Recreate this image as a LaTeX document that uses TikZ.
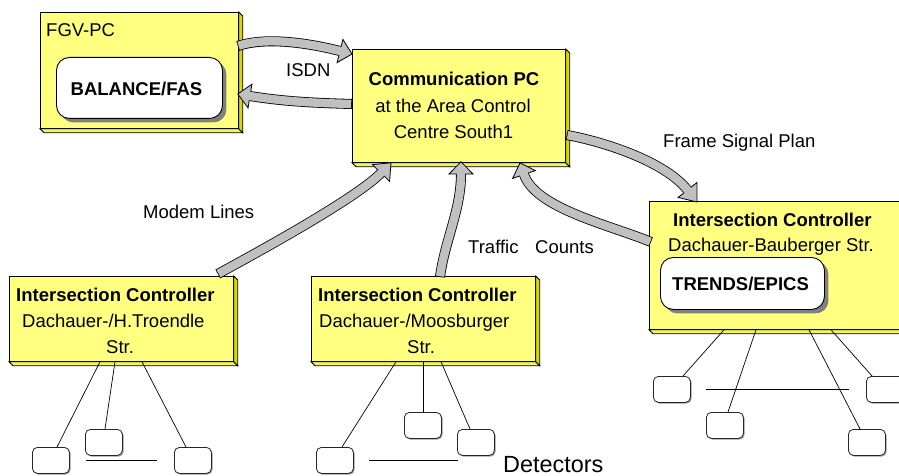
\documentclass[tikz,border=0pt]{standalone}
\usepackage{fontspec}
\setmainfont{Liberation Sans}
\usetikzlibrary{calc,shadows}

\definecolor{pcface}{HTML}{FFFF80}
\definecolor{pcside}{HTML}{D8D800}
\definecolor{pcbottom}{HTML}{F2F26A}
\definecolor{arrowfill}{HTML}{C0C0C0}
\definecolor{shadowgray}{HTML}{808080}

\tikzset{
  pcbox/.style={draw=black, line width=0.8pt, fill=pcface, inner sep=0pt, anchor=north west},
  appbox/.style={draw=black, line width=0.9pt, fill=white, rounded corners=13pt, inner sep=0pt,
    anchor=north west, drop shadow={shadow xshift=4pt, shadow yshift=-4pt, fill=shadowgray, opacity=1}},
  detbox/.style={draw=black!85, line width=0.8pt, fill=white, rounded corners=5pt,
    minimum width=37pt, minimum height=26pt, inner sep=0pt, anchor=north west,
    drop shadow={shadow xshift=1.2pt, shadow yshift=-1.2pt, fill=black!40, opacity=1}},
  txt/.style={font=\fontsize{18.5}{22}\selectfont, anchor=base west, inner sep=0pt},
  btxt/.style={txt, font=\fontsize{18.5}{22}\selectfont\bfseries},
  wire/.style={draw=black, line width=0.7pt},
  shaftout/.style={draw=black, line width=10pt},
  shaftin/.style={draw=arrowfill, line width=8.4pt},
  headstyle/.style={fill=arrowfill, draw=black, line width=0.8pt, line join=miter},
}

% side and bottom faces of a raised box
\newcommand{\pcdepth}[1]{%
  \filldraw[fill=pcbottom, draw=black, line width=0.8pt]
    (#1.south west) -- ++(4,4) -- ($(#1.south east)+(4,4)$) -- (#1.south east) -- cycle;
  \filldraw[fill=pcside, draw=black, line width=0.8pt]
    (#1.north east) -- ++(4,4) -- ($(#1.south east)+(4,4)$) -- (#1.south east) -- cycle;
}

% curved block arrow: tail, tail control, head base midpoint, tip
\newcommand{\blockarrow}[4]{%
  \coordinate (ba-c) at ($(#3)!-36pt!(#4)$);
  \coordinate (ba-l) at ($(#3)!12pt!90:(#4)$);
  \coordinate (ba-r) at ($(#3)!12pt!-90:(#4)$);
  \coordinate (ba-e) at ($(#3)!2pt!(#4)$);
  \draw[shaftout] (#1) .. controls (#2) and (ba-c) .. (#3);
  \filldraw[headstyle] (ba-l) -- (#4) -- (ba-r) -- cycle;
  \draw[shaftin, shorten <=0.8pt] (#1) .. controls (#2) and (ba-c) .. (#3) -- (ba-e);
}

\begin{document}
\begin{tikzpicture}[x=1pt,y=-1pt]
\useasboundingbox (0,0) rectangle (899,476);
\clip (0,0) rectangle (899,476);

% ---------- FGV-PC ----------
\node[pcbox, minimum width=198pt, minimum height=116pt] (fgv) at (40,12) {};
\pcdepth{fgv}
\node[txt] (fgvlabel) at (46,36.5) {FGV-PC};
\node[appbox, minimum width=166pt, minimum height=61pt] (balance) at (56,57) {};
\node[btxt, anchor=base] (balancelabel) at (136.5,95.7) {BALANCE/FAS};

% ---------- Communication PC ----------
\node[pcbox, minimum width=213pt, minimum height=113pt] (comm) at (352,49) {};
\pcdepth{comm}
\node[btxt, anchor=base] (commA) at (454,86) {Communication PC};
\node[txt, anchor=base] (commB) at (453,112.3) {at the Area Control};
\node[txt, anchor=base] (commC) at (453.5,139) {Centre South1};

% ---------- intersection controllers ----------
\node[pcbox, minimum width=224pt, minimum height=85pt] (lc) at (9,276) {};
\pcdepth{lc}
\node[btxt] (lcA) at (16,301.7) {Intersection Controller};
\node[txt] (lcB) at (22,327) {Dachauer-/H.Troendle};
\node[txt] (lcC) at (106,353) {Str.};

\node[pcbox, minimum width=224pt, minimum height=85pt] (mc) at (311,276) {};
\pcdepth{mc}
\node[btxt] (mcA) at (318,301) {Intersection Controller};
\node[txt] (mcB) at (319,327) {Dachauer-/Moosburger};
\node[txt] (mcC) at (407,353) {Str.};

\node[pcbox, minimum width=262pt, minimum height=128pt] (rc) at (649,201) {};
\pcdepth{rc}
\node[btxt] (rcA) at (673,226.7) {Intersection Controller};
\node[txt] (rcB) at (668,251.7) {Dachauer-Bauberger Str.};
\node[appbox, minimum width=164pt, minimum height=52pt] (trends) at (660,257) {};
\node[btxt] (trendslabel) at (672,290.7) {TRENDS/EPICS};

% ---------- detectors ----------
\node[detbox] (ld1) at (32,447) {};
\node[detbox] (ld2) at (85,429) {};
\node[detbox] (ld3) at (174,447) {};
\node[detbox] (md1) at (316,447) {};
\node[detbox] (md2) at (404,412) {};
\node[detbox] (md3) at (457,429) {};
\node[detbox] (rd1) at (653,376) {};
\node[detbox] (rd2) at (706,412) {};
\node[detbox] (rd3) at (848,429) {};
\node[detbox] (rd4) at (866,376) {};

\draw[wire] ($(lc.south west)+(91,0)$) -- ($(ld1.north west)+(25,0)$);
\draw[wire] ($(lc.south west)+(106,0)$) -- ($(ld2.north west)+(20,0)$);
\draw[wire] ($(lc.south west)+(133,0)$) -- ($(ld3.north west)+(12,0)$);
\coordinate (lbusA) at (86,460);
\coordinate (lbusB) at (157,460);
\draw[wire] (lbusA) -- (lbusB);

\draw[wire] ($(mc.south west)+(85,0)$) -- ($(md1.north west)+(26,0)$);
\draw[wire] ($(mc.south west)+(112,0)$) -- ($(md2.north west)+(19,0)$);
\draw[wire] ($(mc.south west)+(130,0)$) -- ($(md3.north west)+(13,0)$);
\coordinate (mbusA) at (369,460);
\coordinate (mbusB) at (458,460);
\draw[wire] (mbusA) -- (mbusB);

\draw[wire] ($(rc.south west)+(75,0)$) -- ($(rd1.north west)+(30,0)$);
\draw[wire] ($(rc.south west)+(107,0)$) -- ($(rd2.north west)+(22,0)$);
\draw[wire] ($(rc.south west)+(160,0)$) -- ($(rd3.north west)+(12,0)$);
\draw[wire] ($(rc.south west)+(182,0)$) -- ($(rd4.north west)+(6,0)$);
\coordinate (rbusA) at (706,389);
\coordinate (rbusB) at (849,389);
\draw[wire] (rbusA) -- (rbusB);

\node[txt, font=\fontsize{23.4}{26}\selectfont] (detlabel) at (503,472) {Detectors};

% ---------- data links ----------
\coordinate (isdnOutT) at ($(fgv.north east)+(-1,34)$);
\coordinate (isdnOutC) at (265,37);
\coordinate (isdnOutB) at (340,51);
\coordinate (isdnOutH) at ($(comm.north west)+(0,5)$);
\blockarrow{isdnOutT}{isdnOutC}{isdnOutB}{isdnOutH}

\coordinate (isdnInT) at ($(comm.north west)+(0,55)$);
\coordinate (isdnInC) at (318,103);
\coordinate (isdnInB) at (250,96);
\coordinate (isdnInH) at ($(fgv.north east)+(-1,82)$);
\blockarrow{isdnInT}{isdnInC}{isdnInB}{isdnInH}

\coordinate (modemT) at ($(lc.north east)+(-16,-2)$);
\coordinate (modemC) at (258,252);
\coordinate (modemB) at (381,173);
\coordinate (modemH) at ($(comm.south west)+(39,0)$);
\blockarrow{modemT}{modemC}{modemB}{modemH}

\coordinate (trafT) at ($(mc.north west)+(129,1)$);
\coordinate (trafC) at (445,240);
\coordinate (trafB) at (461,174);
\coordinate (trafH) at ($(comm.south west)+(109,-1)$);
\blockarrow{trafT}{trafC}{trafB}{trafH}

\coordinate (cntT) at ($(rc.north west)+(2,41)$);
\coordinate (cntC) at (610,225);
\coordinate (cntB) at (524,174.5);
\coordinate (cntH) at ($(comm.south west)+(168,0)$);
\blockarrow{cntT}{cntC}{cntB}{cntH}

\coordinate (frameT) at ($(comm.north east)+(1,86)$);
\coordinate (frameC) at (605,142);
\coordinate (frameB) at (687.5,190);
\coordinate (frameH) at (697,202);
\blockarrow{frameT}{frameC}{frameB}{frameH}

% ---------- link labels ----------
\node[txt] (isdnlabel) at (286,77) {ISDN};
\node[txt] (framelabel) at (663,147) {Frame Signal Plan};
\node[txt] (modemlabel) at (143,218) {Modem Lines};
\node[txt] (traflabel) at (468,253) {Traffic};
\node[txt] (cntlabel) at (535,253) {Counts};
\end{tikzpicture}
\end{document}
